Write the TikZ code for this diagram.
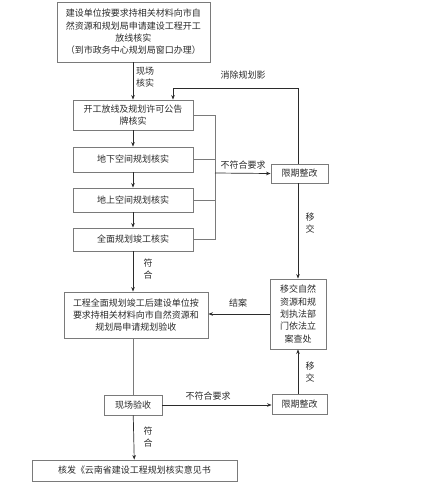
\documentclass[tikz,border=0pt]{standalone}
\usepackage{fontspec}
\newfontfamily\cjk{Noto Sans CJK SC}
\usetikzlibrary{arrows.meta,positioning,calc}
\usepackage{xcolor}
\definecolor{Ink}{HTML}{2B2B2B}
\definecolor{Edge}{HTML}{7A7A7A}

\begin{document}
\begin{tikzpicture}[x=1pt,y=-1pt,>={Stealth[length=4.5pt,width=3.6pt]},
  box/.style={draw=Edge,line width=0.9pt,fill=white,text=Ink,inner sep=0pt,align=center,font=\cjk\fontsize{9}{12.3}\selectfont},
  lbl/.style={text=Ink,align=center,inner sep=0pt,font=\cjk\fontsize{9}{12.3}\selectfont},
  flow/.style={->,Ink,line width=0.7pt},
  link/.style={Edge,line width=0.8pt}]
\useasboundingbox (0,0) rectangle (441,483);
% main column
\node[box,minimum width=153,minimum height=60] (apply) at (133.5,32) {建设单位按要求持相关材料向市自\\然资源和规划局申请建设工程开工\\放线核实\\（到市政务中心规划局窗口办理）};
\node[box,minimum width=120,minimum height=30] (setout) at (133,115) {开工放线及规划许可公告\\牌核实};
\node[box,minimum width=120,minimum height=25] (under) at (133,159.5) {地下空间规划核实};
\node[box,minimum width=120,minimum height=24] (above) at (133,200) {地上空间规划核实};
\node[box,minimum width=120,minimum height=23] (whole) at (133,239.5) {全面规划竣工核实};
\node[box,minimum width=144,minimum height=46] (accept) at (136,315) {工程全面规划竣工后建设单位按\\要求持相关材料向市自然资源和\\规划局申请规划验收};
\node[box,minimum width=58,minimum height=20] (site) at (133,405) {现场验收};
\node[box,minimum width=205,minimum height=21] (issue) at (134.5,470.5) {核发《云南省建设工程规划核实意见书};
% right column
\node[box,minimum width=57,minimum height=19] (fix1) at (299.5,173.5) {限期整改};
\node[box,minimum width=56,minimum height=70] (refer) at (298,314) {移交自然\\资源和规\\划执法部\\门依法立\\案查处};
\node[box,minimum width=55,minimum height=20] (fix2) at (299.5,404) {限期整改};
\coordinate (bus) at (215,173);
\coordinate (loop) at (173,88);
% connectors
\draw[flow] (setout.north |- apply.south) -- (setout.north);
\draw[flow] (setout) -- (under);
\draw[flow] (under) -- (above);
\draw[flow] (above) -- (whole);
\draw[flow] (whole.south) -- (whole.south |- accept.north);
\draw[link] (site.north |- accept.south) -- (site.north);
\draw[flow] (site) -- (issue);
\draw[link] (setout.east) -| (bus);
\draw[link] (under.east) -- (under.east -| bus);
\draw[link] (above.east) -- (above.east -| bus);
\draw[link] (whole.east) -| (bus);
\draw[flow] (bus) -- (fix1.west);
\draw[flow] (fix1.north -| refer) |- (loop) -- (loop |- setout.north);
\draw[flow] (fix1.south -| refer) -- (refer.north);
\draw[flow] (refer.west) -- (refer.west -| accept.east);
\draw[flow] (site.east) -- (site.east -| fix2.west);
\draw[flow] (fix2.north -| refer) -- (refer.south);
% labels
\node[lbl] (lsite) at (145,77) {现场\\核实};
\node[lbl] (lclear) at (243,75) {消除规划影};
\node[lbl] (lfail1) at (243,165) {不符合要求};
\node[lbl] (lmove1) at (310,223) {移\\交};
\node[lbl] (lok1) at (148,269) {符\\合};
\node[lbl] (lclose) at (238,303) {结案};
\node[lbl] (lfail2) at (208,396) {不符合要求};
\node[lbl] (lmove2) at (310,372) {移\\交};
\node[lbl] (lok2) at (148,437) {符\\合};
\end{tikzpicture}
\end{document}
